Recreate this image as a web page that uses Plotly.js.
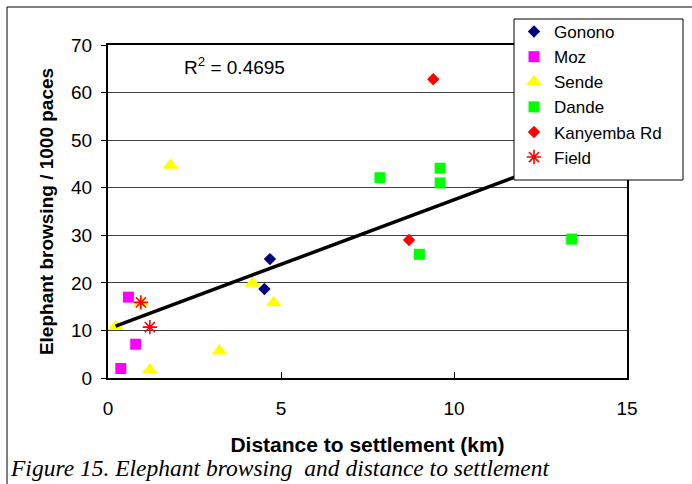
<!DOCTYPE html>
<html>
<head>
<meta charset="utf-8">
<script src="https://cdn.plot.ly/plotly-3.0.1.min.js"></script>
<style>
html,body{margin:0;padding:0;background:#fff;}
#chart{width:692px;height:484px;}
</style>
</head>
<body>
<div id="chart"></div>
<script>
// ---- data ----
const gononoX = [4.68, 4.52];
const gononoY = [25.0, 18.7];
const mozX = [0.59, 0.80, 0.37];
const mozY = [17.0, 7.1, 2.0];
const sendeX = [1.81, 4.18, 4.79, 3.22, 1.21, 0.22, 0.96];
const sendeY = [44.7, 19.9, 15.8, 5.7, 1.7, 10.8, 15.8];
const dandeX = [7.86, 9.60, 9.60, 9.00, 13.40];
const dandeY = [42.1, 44.1, 41.0, 26.0, 29.2];
const kanyembaX = [9.40, 8.70];
const kanyembaY = [62.8, 29.0];
const fieldX = [0.95, 1.21];
const fieldY = [15.9, 10.7];
const trendX = [0.22, 13.40];
const trendY = [10.9, 46.7];
const xTicks = [0, 5, 10, 15];
const yTicks = [0, 10, 20, 30, 40, 50, 60, 70];
const rSquared = "0.4695";

const FONT = "Liberation Sans, Arial, sans-serif";

const traces = [
  {name: "Gonono", x: gononoX, y: gononoY, type: "scatter", mode: "markers",
   marker: {symbol: "diamond", size: 9.5, color: "#000080"}},
  {name: "Moz", x: mozX, y: mozY, type: "scatter", mode: "markers",
   marker: {symbol: "square", size: 11, color: "#FF00FF"}},
  {name: "Sende", x: sendeX, y: sendeY, type: "scatter", mode: "markers",
   marker: {symbol: "triangle-up", size: 14, color: "#FFFF00"}},
  {name: "Dande", x: dandeX, y: dandeY, type: "scatter", mode: "markers",
   marker: {symbol: "square", size: 11, color: "#00FF00"}},
  {name: "Kanyemba Rd", x: kanyembaX, y: kanyembaY, type: "scatter", mode: "markers",
   marker: {symbol: "diamond", size: 9.5, color: "#FF0000"}},
  {name: "Field", x: fieldX, y: fieldY, type: "scatter", mode: "markers",
   marker: {symbol: "asterisk-open", size: 12, color: "#FF0000", line: {color: "#FF0000", width: 1.6}}},
  {name: "Linear trend", x: trendX, y: trendY, type: "scatter", mode: "lines",
   line: {color: "#000000", width: 3.5}, showlegend: false, hoverinfo: "skip"}
];

// paper coordinates: plot area spans x 108..627 px, y 45..378 px
const px = v => (v - 108) / 519;
const py = v => (378 - v) / 333;

const layout = {
  width: 692, height: 484,
  paper_bgcolor: "#ffffff", plot_bgcolor: "#ffffff",
  margin: {l: 108, r: 65, t: 45, b: 106, pad: 0},
  font: {family: FONT, color: "#000000", size: 18},
  showlegend: true,
  legend: {
    x: px(514), y: py(14), xanchor: "left", yanchor: "top",
    bgcolor: "rgba(0,0,0,0)", borderwidth: 0,
    font: {family: FONT, size: 17, color: "#000000"},
    itemclick: false
  },
  xaxis: {
    range: [0, 15], tickvals: xTicks, ticktext: xTicks.map(String),
    showgrid: false, zeroline: false,
    showline: true, linecolor: "#000000", linewidth: 2, mirror: true,
    ticks: "inside", ticklen: 6, tickwidth: 1, tickcolor: "#000000",
    ticklabelstandoff: 12,
    tickfont: {family: FONT, size: 19},
    title: {text: "<b>Distance to settlement (km)</b>", font: {family: FONT, size: 21}, standoff: 20}
  },
  yaxis: {
    range: [0, 70], tickvals: yTicks, ticktext: yTicks.map(String),
    showgrid: true, gridcolor: "#404040", gridwidth: 1, zeroline: false,
    showline: true, linecolor: "#000000", linewidth: 2, mirror: true,
    ticks: "outside", ticklen: 5, tickwidth: 1, tickcolor: "#000000",
    ticklabelstandoff: 5,
    tickfont: {family: FONT, size: 19},
    title: {text: "<b>Elephant browsing / 1000 paces</b>", font: {family: FONT, size: 19}, standoff: 12}
  },
  annotations: [
    {text: "R<sup>2</sup> = " + rSquared, xref: "paper", yref: "paper",
     x: px(182), y: py(66), xanchor: "left", yanchor: "middle", showarrow: false,
     font: {family: FONT, size: 19, color: "#000000"}},
    {text: "Figure 15. Elephant browsing\u00A0 and distance to settlement", xref: "paper", yref: "paper",
     x: px(8), y: py(468), xanchor: "left", yanchor: "middle", showarrow: false,
     font: {family: "Liberation Serif, Times New Roman, serif", size: 23.5, color: "#000000", style: "italic"}}
  ],
  shapes: [
    {type: "rect", xref: "paper", yref: "paper",
     x0: px(7), x1: px(720), y0: py(500), y1: py(7),
     line: {color: "#000000", width: 1}, fillcolor: "rgba(0,0,0,0)", layer: "below"},
    {type: "rect", xref: "paper", yref: "paper",
     x0: px(514), x1: px(683), y0: py(180), y1: py(19),
     line: {color: "#000000", width: 1}, fillcolor: "#ffffff", layer: "above"}
  ]
};

Plotly.newPlot("chart", traces, layout, {staticPlot: true, displayModeBar: false});
</script>
</body>
</html>
